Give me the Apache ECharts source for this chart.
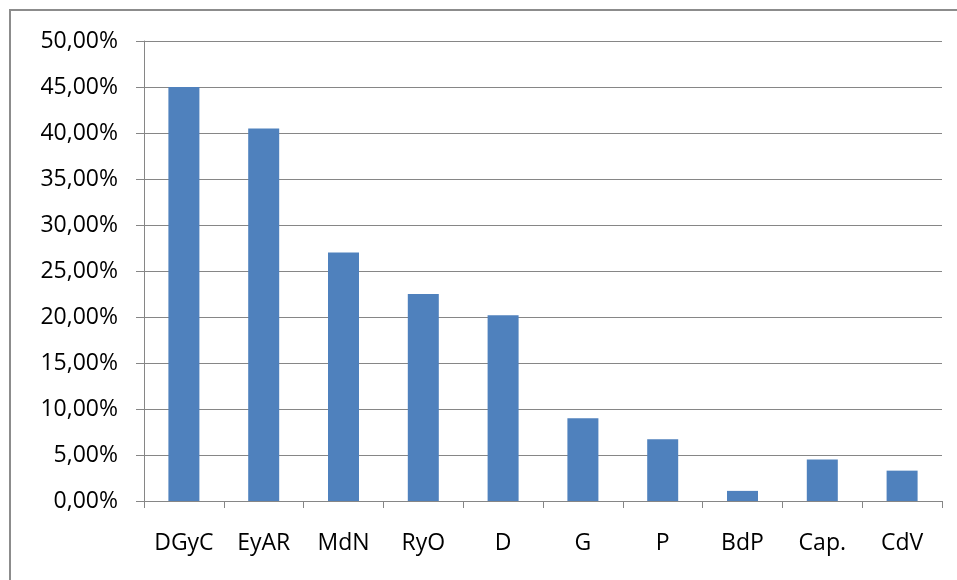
<!DOCTYPE html>
<html>
<head>
<meta charset="utf-8">
<script src="https://cdn.jsdelivr.net/npm/echarts@6/dist/echarts.min.js"></script>
<style>
  html, body { margin: 0; padding: 0; background: #fff; }
  #chart { width: 957px; height: 580px; }
</style>
</head>
<body>
<div id="chart"></div>
<script>
// Categories and their shares (percent)
const categories = ['DGyC', 'EyAR', 'MdN', 'RyO', 'D', 'G', 'P', 'BdP', 'Cap.', 'CdV'];
const shares = [45.0, 40.5, 27.0, 22.5, 20.2, 9.0, 6.7, 1.1, 4.5, 3.3];

// Y axis range and step (percent)
const yMin = 0;
const yMax = 50;
const yStep = 5;

const FONT = 'Open Sans';
const GRID_COLOR = '#868686';

const chart = echarts.init(document.getElementById('chart'), null, { renderer: 'canvas' });

chart.setOption({
  backgroundColor: '#ffffff',
  animation: false,
  graphic: [{
    type: 'rect',
    shape: { x: 10, y: 10, width: 1000, height: 700 },
    style: { fill: 'none', stroke: '#8c8c8c', lineWidth: 2 },
    silent: true,
    z: 0
  }],
  grid: { left: 144, right: 15, top: 41, bottom: 79, containLabel: false },
  xAxis: {
    type: 'category',
    data: categories,
    axisLine: { show: true, lineStyle: { color: GRID_COLOR, width: 1 } },
    axisTick: { show: true, alignWithLabel: false, length: 7, lineStyle: { color: GRID_COLOR } },
    axisLabel: { color: '#000', fontFamily: FONT, fontSize: 23, margin: 31 },
    splitLine: { show: false }
  },
  yAxis: {
    type: 'value',
    min: yMin,
    max: yMax,
    interval: yStep,
    axisLine: { show: true, lineStyle: { color: GRID_COLOR, width: 1 } },
    axisTick: { show: true, length: 8, lineStyle: { color: GRID_COLOR } },
    axisLabel: {
      color: '#000', fontFamily: FONT, fontSize: 23, margin: 26,
      formatter: v => v.toFixed(2).replace('.', ',') + '%'
    },
    splitLine: { show: true, lineStyle: { color: GRID_COLOR, width: 1 } }
  },
  series: [{
    type: 'bar',
    data: shares,
    barWidth: 31,
    itemStyle: { color: '#4f81bd' }
  }]
});
</script>
</body>
</html>
